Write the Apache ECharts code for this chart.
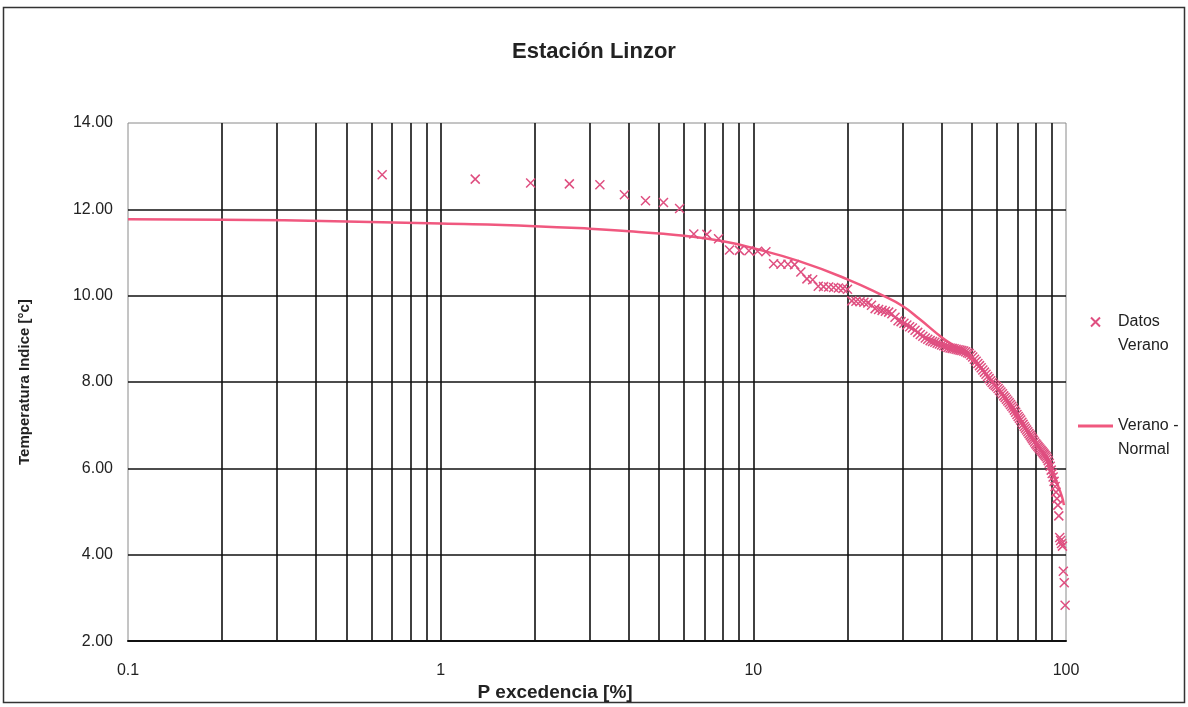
<!DOCTYPE html>
<html>
<head>
<meta charset="utf-8">
<script src="https://cdn.jsdelivr.net/npm/echarts@6/dist/echarts.min.js"></script>
<style>
  html, body { margin: 0; padding: 0; background: #ffffff; }
  #chart { width: 1188px; height: 707px; }
</style>
</head>
<body>
<div id="chart"></div>
<script>
// ---- Data ----
const titleText = 'Estación Linzor';
const xAxisName = 'P excedencia [%]';
const yAxisName = 'Temperatura Indice [°c]';
const seriesNames = ['Datos Verano', 'Verano - Normal'];

// Scatter: exceedance probability [%] (x) and summer index temperature [°C] (y)
const pExc = [
  0.65, 1.29, 1.94, 2.58, 3.23, 3.87, 4.52, 5.16, 5.81, 6.45,
  7.10, 7.74, 8.39, 9.03, 9.68, 10.32, 10.97, 11.61, 12.26, 12.90,
  13.55, 14.19, 14.84, 15.48, 16.13, 16.77, 17.42, 18.06, 18.71, 19.35,
  20.00, 20.65, 21.29, 21.94, 22.58, 23.23, 23.87, 24.52, 25.16, 25.81,
  26.45, 27.10, 27.74, 28.39, 29.03, 29.68, 30.32, 30.97, 31.61, 32.26,
  32.90, 33.55, 34.19, 34.84, 35.48, 36.13, 36.77, 37.42, 38.06, 38.71,
  39.35, 40.00, 40.65, 41.29, 41.94, 42.58, 43.23, 43.87, 44.52, 45.16,
  45.81, 46.45, 47.10, 47.74, 48.39, 49.03, 49.68, 50.32, 50.97, 51.61,
  52.26, 52.90, 53.55, 54.19, 54.84, 55.48, 56.13, 56.77, 57.42, 58.06,
  58.71, 59.35, 60.00, 60.65, 61.29, 61.94, 62.58, 63.23, 63.87, 64.52,
  65.16, 65.81, 66.45, 67.10, 67.74, 68.39, 69.03, 69.68, 70.32, 70.97,
  71.61, 72.26, 72.90, 73.55, 74.19, 74.84, 75.48, 76.13, 76.77, 77.42,
  78.06, 78.71, 79.35, 80.00, 80.65, 81.29, 81.94, 82.58, 83.23, 83.87,
  84.52, 85.16, 85.81, 86.45, 87.10, 87.74, 88.39, 89.03, 89.68, 90.32,
  90.97, 91.61, 92.26, 92.90, 93.55, 94.19, 94.84, 95.48, 96.13, 96.77,
  97.42, 98.06, 98.71, 99.35
];
const tempData = [
  12.80, 12.70, 12.61, 12.59, 12.57, 12.34, 12.20, 12.16, 12.02, 11.43,
  11.42, 11.32, 11.06, 11.05, 11.04, 11.03, 11.02, 10.74, 10.73, 10.73,
  10.72, 10.55, 10.39, 10.37, 10.22, 10.21, 10.20, 10.19, 10.18, 10.17,
  10.15, 9.88, 9.87, 9.86, 9.85, 9.83, 9.78, 9.70, 9.68, 9.66,
  9.64, 9.62, 9.58, 9.50, 9.42, 9.40, 9.36, 9.32, 9.28, 9.25,
  9.20, 9.15, 9.10, 9.06, 9.02, 8.99, 8.96, 8.94, 8.92, 8.90,
  8.88, 8.86, 8.84, 8.82, 8.80, 8.79, 8.78, 8.77, 8.76, 8.75,
  8.74, 8.73, 8.72, 8.70, 8.68, 8.66, 8.62, 8.58, 8.53, 8.48,
  8.43, 8.38, 8.33, 8.28, 8.23, 8.18, 8.13, 8.08, 8.03, 7.99,
  7.95, 7.92, 7.89, 7.85, 7.81, 7.77, 7.73, 7.68, 7.64, 7.60,
  7.56, 7.52, 7.48, 7.44, 7.40, 7.35, 7.30, 7.25, 7.20, 7.16,
  7.12, 7.07, 7.02, 6.97, 6.93, 6.89, 6.85, 6.81, 6.77, 6.73,
  6.69, 6.65, 6.61, 6.57, 6.54, 6.51, 6.48, 6.45, 6.42, 6.39,
  6.36, 6.33, 6.30, 6.27, 6.23, 6.18, 6.12, 6.05, 5.96, 5.88,
  5.80, 5.70, 5.58, 5.45, 5.30, 5.15, 4.90, 4.40, 4.33, 4.26,
  4.20, 3.62, 3.35, 2.83
];

// Fitted curve "Verano - Normal"
const pLine = [0.1, 0.2, 0.5, 1, 2, 3, 4, 5, 6, 8, 10, 14, 20, 26, 30, 34, 40, 45, 50, 55, 60, 65, 70, 75, 80, 85, 90, 94, 97, 98.5];
const tLine = [11.77, 11.76, 11.72, 11.67, 11.61, 11.55, 11.49, 11.44, 11.39, 11.26, 11.10, 10.80, 10.38, 10.00, 9.76, 9.46, 9.04, 8.78, 8.52, 8.22, 7.88, 7.52, 7.15, 6.90, 6.62, 6.30, 5.94, 5.62, 5.35, 5.15];

// Axis ticks
const xMin = 0.1, xMax = 100;
const yMin = 2, yMax = 14, yStep = 2;
const gridMinor = [0.2, 0.3, 0.4, 0.5, 0.6, 0.7, 0.8, 0.9,
                   2, 3, 4, 5, 6, 7, 8, 9,
                   20, 30, 40, 50, 60, 70, 80, 90];

// ---- Chart ----
const FONT = 'Liberation Sans, Arial, sans-serif';
const markerColor = '#df4f80';
const lineColor = '#f0587f';
const gridColor = '#111111';
const xPath = 'path://M0,0L10,10M10,0L0,10';
const linePath = 'path://M0,0L40,0L40,3.5L0,3.5Z';

const scatterData = pExc.map((p, i) => [p, tempData[i]]);
const lineData = pLine.map((p, i) => [p, tLine[i]]);

const chart = echarts.init(document.getElementById('chart'), null, { renderer: 'canvas' });
chart.setOption({
  backgroundColor: '#ffffff',
  animation: false,
  textStyle: { fontFamily: FONT },
  title: {
    text: titleText,
    left: 'center',
    top: 36,
    textStyle: { fontFamily: FONT, fontSize: 22, fontWeight: 'bold', color: '#222' }
  },
  graphic: [{
    type: 'rect',
    shape: { x: 3.5, y: 7.5, width: 1181, height: 695 },
    style: { fill: 'none', stroke: '#333', lineWidth: 1.5 },
    silent: true,
    z: -1
  }],
  grid: {
    left: 128, right: 122, top: 123, bottom: 56,
    show: true, borderColor: '#8a8a8a', borderWidth: 1,
    containLabel: false
  },
  legend: {
    orient: 'vertical',
    left: 1073,
    top: 281,
    itemWidth: 35,
    itemHeight: 9,
    itemGap: 32,
    data: [
      { name: seriesNames[0], icon: xPath },
      { name: seriesNames[1], icon: linePath, itemStyle: { color: lineColor, borderWidth: 0 } }
    ],
    formatter: function (name) {
      return name === seriesNames[0] ? ' \nDatos\nVerano' : ' \nVerano -\nNormal';
    },
    textStyle: {
      fontFamily: FONT, fontSize: 16, color: '#222',
      lineHeight: 24
    }
  },
  xAxis: {
    type: 'log',
    logBase: 10,
    min: xMin,
    max: xMax,
    name: xAxisName,
    nameLocation: 'middle',
    nameGap: 30,
    nameTextStyle: { fontFamily: FONT, fontSize: 19, fontWeight: 'bold', color: '#222', padding: [0, 84, 0, 0] },
    axisLine: { show: true, lineStyle: { color: '#111', width: 2 } },
    axisTick: { show: false },
    axisLabel: {
      margin: 21, fontSize: 16, color: '#222', fontFamily: FONT,
      formatter: function (v) { return String(v); }
    },
    splitLine: { show: true, showMinLine: false, showMaxLine: false, lineStyle: { color: gridColor, width: 1.6 } }
  },
  yAxis: {
    type: 'value',
    min: yMin,
    max: yMax,
    interval: yStep,
    name: yAxisName,
    nameLocation: 'middle',
    nameGap: 96,
    nameTextStyle: { fontFamily: FONT, fontSize: 15, fontWeight: 'bold', color: '#222' },
    axisLine: { show: false },
    axisTick: { show: false },
    axisLabel: {
      margin: 15, fontSize: 16, color: '#222', fontFamily: FONT,
      formatter: function (v) { return v.toFixed(2); }
    },
    splitLine: { show: true, showMinLine: false, showMaxLine: false, lineStyle: { color: gridColor, width: 1.6 } }
  },
  series: [
    {
      name: 'minor-grid',
      type: 'line',
      data: [],
      z: 1,
      silent: true,
      markLine: {
        silent: true,
        z: 1,
        symbol: ['none', 'none'],
        label: { show: false },
        emphasis: { disabled: true },
        lineStyle: { color: gridColor, width: 1.6, type: 'solid' },
        data: gridMinor.map(v => ({ xAxis: v }))
      }
    },
    {
      name: seriesNames[1],
      type: 'line',
      data: lineData,
      smooth: 0.5,
      showSymbol: false,
      symbol: 'none',
      z: 3,
      lineStyle: { color: lineColor, width: 2.5 },
      itemStyle: { color: lineColor }
    },
    {
      name: seriesNames[0],
      type: 'scatter',
      data: scatterData,
      symbol: xPath,
      symbolSize: 9,
      z: 4,
      itemStyle: { color: markerColor, borderColor: markerColor, borderWidth: 1.5, opacity: 1 }
    }
  ]
});
</script>
</body>
</html>
